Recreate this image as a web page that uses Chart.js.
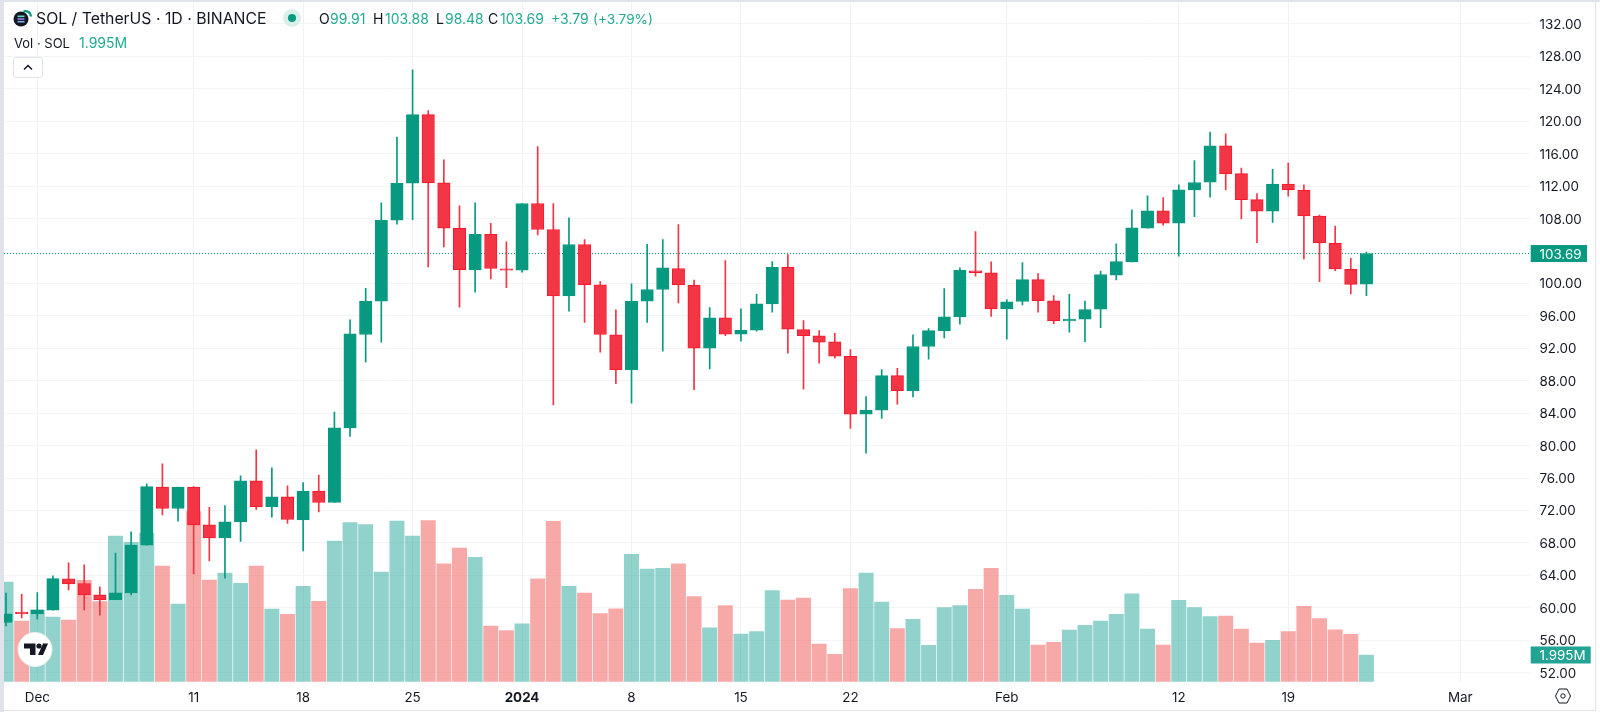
<!DOCTYPE html>
<html lang="en">
<head>
<meta charset="utf-8">
<title>SOL / TetherUS 1D</title>
<script src="https://cdn.jsdelivr.net/npm/chart.js@4"></script>
<style>
html,body{margin:0;padding:0;width:1600px;height:712px;overflow:hidden;background:#fff;font-family:Inter,"Noto Sans",sans-serif}
#wrap{position:relative;width:1600px;height:712px}
canvas{position:absolute;left:0;top:0}
.strip{position:absolute;background:#e0e3eb}
.t{position:absolute;white-space:nowrap;line-height:18px;font-size:14px;color:#131722}
.g{color:#22ab94}
svg{position:absolute;overflow:visible}
#btn{position:absolute;left:13px;top:57px;width:30px;height:21px;box-sizing:border-box;border:1px solid #e0e3eb;border-radius:3px;background:#fff}
</style>
</head>
<body>
<div id="wrap">
<canvas id="c" width="1600" height="712"></canvas>
<div class="strip" style="left:0;top:0;width:4px;height:712px"></div>
<div class="strip" style="left:0;top:0;width:1600px;height:2px"></div>
<div class="strip" style="left:1595px;top:0;width:1px;height:711px"></div>
<div class="strip" style="left:0;top:710px;width:1596px;height:1px"></div>

<svg style="left:13px;top:10px" width="20" height="16" viewBox="0 0 20 16">
  <circle cx="8" cy="9" r="7.5" fill="#131722"/>
  <rect x="4.5" y="5.5" width="7" height="1.6" fill="#5fe0c0"/>
  <rect x="4.5" y="8.2" width="7" height="1.6" fill="#9a7bf0"/>
  <rect x="4.5" y="10.9" width="7" height="1.6" fill="#7fb4f0"/>
  <path d="M10.5 1.5 A5.5 5.5 0 0 1 18 6.5" fill="none" stroke="#089981" stroke-width="2.4"/>
</svg>
<div class="t" style="left:36px;top:10px;font-size:15.8px;line-height:18px">SOL / TetherUS · 1D · BINANCE</div>
<svg style="left:283px;top:9px" width="18" height="18" viewBox="0 0 18 18">
  <circle cx="9" cy="9" r="9" fill="#d9efea"/><circle cx="9" cy="9" r="4" fill="#089981"/>
</svg>
<div class="t" style="left:319px;top:10px">O</div><div class="t g" style="left:330px;top:10px">99.91</div>
<div class="t" style="left:373px;top:10px">H</div><div class="t g" style="left:385px;top:10px">103.88</div>
<div class="t" style="left:436px;top:10px">L</div><div class="t g" style="left:445px;top:10px">98.48</div>
<div class="t" style="left:488px;top:10px">C</div><div class="t g" style="left:500px;top:10px">103.69</div>
<div class="t g" style="left:551px;top:10px">+3.79</div>
<div class="t g" style="left:593px;top:10px;font-size:13.6px">(+3.79%)</div>
<div class="t" style="left:14px;top:34px;font-size:13px">Vol · SOL</div>
<div class="t g" style="left:79px;top:34px">1.995M</div>
<div id="btn"></div>
<svg style="left:13px;top:57px" width="30" height="21" viewBox="0 0 30 21">
  <path d="M11 12.5 L15 8.5 L19 12.5" fill="none" stroke="#131722" stroke-width="1.5"/>
</svg>

<svg style="left:17px;top:632px" width="36" height="36" viewBox="0 0 36 36">
  <circle cx="18" cy="17.5" r="17" fill="#fff" stroke="#eceef2" stroke-width="1"/>
  <path d="M7 11.5 H18.5 V23 H13 V16.5 H7 Z" fill="#131722"/>
  <circle cx="22" cy="14" r="2.6" fill="#131722"/>
  <path d="M24 23 L29 11.5 H34 L29 23 Z" transform="translate(-3,0)" fill="#131722"/>
</svg>
<svg style="left:1555px;top:688px" width="16" height="16" viewBox="0 0 16 16">
  <path d="M4 1 H12 L15.5 8 L12 15 H4 L0.5 8 Z" fill="none" stroke="#131722" stroke-width="1"/>
  <circle cx="8" cy="8" r="2.2" fill="none" stroke="#131722" stroke-width="1"/>
</svg>
</div>
<script>
const dates = ["Nov 29","Nov 30","Dec 1","Dec 2","Dec 3","Dec 4","Dec 5","Dec 6","Dec 7","Dec 8","Dec 9","Dec 10","Dec 11","Dec 12","Dec 13","Dec 14","Dec 15","Dec 16","Dec 17","Dec 18","Dec 19","Dec 20","Dec 21","Dec 22","Dec 23","Dec 24","Dec 25","Dec 26","Dec 27","Dec 28","Dec 29","Dec 30","Dec 31","Jan 1","Jan 2","Jan 3","Jan 4","Jan 5","Jan 6","Jan 7","Jan 8","Jan 9","Jan 10","Jan 11","Jan 12","Jan 13","Jan 14","Jan 15","Jan 16","Jan 17","Jan 18","Jan 19","Jan 20","Jan 21","Jan 22","Jan 23","Jan 24","Jan 25","Jan 26","Jan 27","Jan 28","Jan 29","Jan 30","Jan 31","Feb 1","Feb 2","Feb 3","Feb 4","Feb 5","Feb 6","Feb 7","Feb 8","Feb 9","Feb 10","Feb 11","Feb 12","Feb 13","Feb 14","Feb 15","Feb 16","Feb 17","Feb 18","Feb 19","Feb 20","Feb 21","Feb 22","Feb 23","Feb 24"];
const opens = [58.18,59.38,59.25,59.7,63.56,62.99,61.59,61.01,61.84,67.72,74.87,72.24,74.87,70.23,68.62,70.6,75.65,72.45,73.68,70.84,74.38,72.98,82.19,93.7,97.81,107.8,112.36,120.83,112.4,106.81,101.71,106.07,101.8,101.63,109.86,106.65,98.47,104.8,99.82,93.65,89.38,97.81,99.25,101.84,99.78,92.01,95.75,93.74,94.23,97.48,102,94.31,93.53,92.79,91.02,83.88,84.37,88.64,86.79,92.22,94.19,95.87,101.55,101.3,96.86,97.77,100.48,97.85,95.38,95.59,96.82,101.01,102.66,106.81,108.95,107.43,111.54,112.48,116.96,113.54,110.34,108.9,112.27,111.53,108.32,104.95,101.74,99.91];
const highs = [61.8,61.67,61.88,63.93,65.54,65.29,62.58,66.73,69.36,75.28,77.75,74.87,74.95,72.4,72.61,76.27,79.48,77.26,75.04,75.45,76.35,84.12,95.5,99.41,109.94,118.04,126.34,121.33,115.24,109.57,109.94,107.43,105.13,109.86,116.89,109.86,108.09,105.41,100.23,96.74,99.95,104.84,105.41,107.26,100.4,97.03,102.82,96.86,98.67,102.7,103.56,95.42,94.19,93.86,91.84,86.06,89.38,89.54,93.65,94.44,99.37,101.92,106.4,102.66,98.01,102.58,101.22,98.51,98.67,97.81,101.51,104.88,109.07,110.8,110.6,112.16,115.16,118.68,118.44,114.24,111.08,114.08,114.86,112.15,108.44,107.09,103.1,103.88];
const lows = [57.77,58.75,58.59,59.7,62.21,59.74,59.08,61,61.59,67.72,71.46,70.68,64.18,65.78,63.65,68.17,72.12,71.17,70.39,67.02,71.83,72.98,81.12,90.28,92.75,107.31,107.88,102.04,104.51,97.07,98.92,100.56,99.49,101.38,105.99,85.03,96.57,95.18,91.52,87.65,85.23,95.18,91.64,97.6,86.91,89.46,93.57,92.87,94.11,96.45,91.39,86.95,90.16,90.78,82.11,79.07,83.34,85.11,86.01,90.65,93.28,94.97,100.89,95.92,93.12,97.35,96.45,95.05,93.98,92.83,94.56,100.44,102.66,106.81,107.18,103.36,108.25,110.63,111.53,107.95,105.03,107.54,110.75,103.02,100.22,101.58,98.7,98.48];
const closes = [59.25,59.28,59.74,63.6,62.95,61.59,61.01,61.84,67.72,74.95,72.24,74.87,70.23,68.62,70.6,75.65,72.45,73.68,70.88,74.38,72.98,82.19,93.78,97.81,107.8,112.36,120.83,112.4,106.81,101.71,106.07,101.84,101.63,109.86,106.65,98.47,104.8,99.86,93.7,89.38,97.81,99.25,101.92,99.86,92.01,95.75,93.74,94.23,97.48,102,94.35,93.57,92.75,91.02,83.88,84.37,88.64,86.79,92.22,94.19,95.87,101.63,101.34,96.86,97.73,100.48,97.89,95.38,95.59,96.78,101.1,102.7,106.85,108.95,107.43,111.54,112.45,116.96,113.54,110.34,108.9,112.27,111.53,108.32,104.99,101.78,99.89,103.69];
const volumes = [7.45,4.53,5.35,4.83,4.61,7.57,5.98,10.88,10.41,11.08,8.64,5.8,12.7,7.59,8.12,7.35,8.64,5.43,5.03,7.12,6,10.51,11.88,11.73,8.19,12,10.88,12.03,8.81,9.98,9.29,4.16,3.81,4.33,7.69,11.98,7.12,6.62,5.08,5.45,9.51,8.42,8.47,8.81,6.35,4.03,5.68,3.56,3.74,6.8,6.1,6.25,2.81,2.04,6.95,8.12,5.95,3.96,4.66,2.71,5.53,5.68,6.9,8.47,6.45,5.43,2.74,2.94,3.86,4.21,4.53,5.03,6.57,3.93,2.74,6.08,5.53,4.86,4.91,3.93,2.89,3.09,3.74,5.63,4.71,3.88,3.54,1.995];
const priceTicks = [52,56,60,64,68,72,76,80,84,88,92,96,100,108,112,116,120,124,128,132];
const timeTickPositions = [2,12,19,26,33,40,47,54,64,75,82,93];
const timeTickLabels = ["Dec","11","18","25","2024","8","15","22","Feb","12","19","Mar"];
const lastPrice = 103.69, lastVolumeLabel = "1.995M", lastVolume = 1.995;

const UP = "#089981", DOWN = "#f23645", DOWN_EDGE = "#f8172c";
const VOL_UP = "rgba(38,166,154,0.5)", VOL_DOWN = "rgba(239,83,80,0.5)";
const isUp = i => closes[i] >= opens[i];
const FONT = 'Inter, "Noto Sans", sans-serif';
const X_MIN = -0.13, X_MAX = 97.46, Y_MIN = 50.88, Y_MAX = 134.59, VOL_MAX = 50.7;

const badgePlugin = {
  id: "badges",
  afterDraw(chart) {
    const { ctx, chartArea: a, scales } = chart;
    const draw = (y, w, fill, text) => {
      ctx.save();
      ctx.fillStyle = fill;
      ctx.fillRect(a.right + 0.7, y - 8.5, w, 17);
      ctx.fillStyle = "#fff";
      ctx.font = "13.4px " + FONT;
      ctx.textAlign = "left";
      ctx.textBaseline = "middle";
      ctx.fillText(text, a.right + 9.5, y + 1);
      ctx.restore();
    };
    draw(scales.y.getPixelForValue(lastPrice), 56.3, UP, lastPrice.toFixed(2));
    draw(scales.yVol.getPixelForValue(lastVolume), 60, "#22a393", lastVolumeLabel);
  }
};

new Chart(document.getElementById("c"), {
  type: "bar",
  plugins: [badgePlugin],
  data: {
    datasets: [
      {
        type: "line", label: "Last price", order: 3, xAxisID: "x", yAxisID: "y",
        data: [{ x: X_MIN, y: lastPrice }, { x: X_MAX, y: lastPrice }],
        borderColor: UP, borderWidth: 1, borderDash: [1, 2], pointRadius: 0, fill: false
      },
      {
        label: "Body", order: 1, grouped: false, xAxisID: "x", yAxisID: "y",
        data: dates.map((d, i) => ({ x: i, y: [opens[i], closes[i]] })),
        backgroundColor: dates.map((d, i) => isUp(i) ? UP : DOWN),
        borderColor: dates.map((d, i) => isUp(i) ? UP : DOWN_EDGE),
        borderWidth: 1, borderSkipped: false, barThickness: 12.4, minBarLength: 1.5
      },
      {
        label: "Wick", order: 2, grouped: false, xAxisID: "x", yAxisID: "y",
        data: dates.map((d, i) => ({ x: i, y: [lows[i], highs[i]] })),
        backgroundColor: dates.map((d, i) => isUp(i) ? UP : DOWN),
        borderWidth: 0, barThickness: 1
      },
      {
        label: "Vol", order: 4, grouped: false, xAxisID: "x", yAxisID: "yVol",
        data: dates.map((d, i) => ({ x: i, y: volumes[i] })),
        backgroundColor: dates.map((d, i) => isUp(i) ? VOL_UP : VOL_DOWN),
        borderWidth: 0, barThickness: 14.3
      }
    ]
  },
  options: {
    responsive: false,
    animation: false,
    devicePixelRatio: 1,
    layout: { padding: { left: 4, top: 3, right: 4, bottom: 1 } },
    plugins: { legend: { display: false }, tooltip: { enabled: false } },
    scales: {
      x: {
        type: "linear", offset: false, min: X_MIN, max: X_MAX,
        afterBuildTicks: s => { s.ticks = timeTickPositions.map(value => ({ value })); },
        afterFit: s => { s.height = 29.3; s.paddingLeft = 0; s.paddingRight = 0; },
        border: { display: false },
        grid: { color: "#f0f1f3", offset: false, drawTicks: false },
        ticks: {
          autoSkip: false, maxRotation: 0, padding: 8, color: "#131722",
          font: c => ({ family: FONT, size: 13.4, weight: c.tick && c.tick.value === 33 ? "700" : "400" }),
          callback: v => timeTickLabels[timeTickPositions.indexOf(v)]
        }
      },
      y: {
        type: "linear", position: "right", min: Y_MIN, max: Y_MAX,
        afterBuildTicks: s => { s.ticks = priceTicks.map(value => ({ value })); },
        afterFit: s => { s.width = 66; s.paddingTop = 0; s.paddingBottom = 0; },
        border: { display: false },
        grid: { color: "#f3f4f6", drawTicks: false },
        ticks: {
          padding: 9.5, labelOffset: 1, color: "#131722", font: { family: FONT, size: 13.4 },
          callback: v => v.toFixed(2)
        }
      },
      yVol: { type: "linear", display: false, min: 0, max: VOL_MAX, grid: { display: false },
        afterFit: s => { s.paddingTop = 0; s.paddingBottom = 0; } }
    }
  }
});
</script>
</body>
</html>
